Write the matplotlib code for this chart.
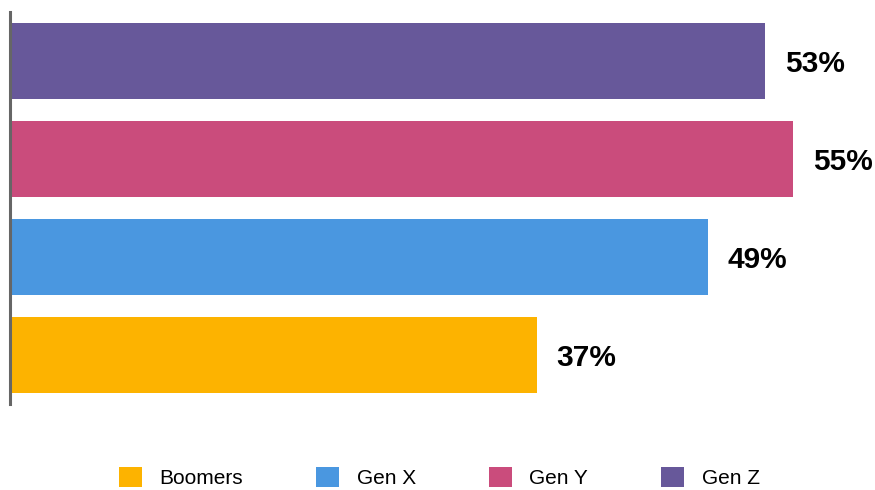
import matplotlib.pyplot as plt
from matplotlib.patches import Patch

categories = ["Boomers", "Gen X", "Gen Y", "Gen Z"]
values = [37, 49, 55, 53]
colors = ["#FDB300", "#4A97E0", "#CA4C7C", "#67589A"]

plt.rcParams['font.family'] = ['Liberation Sans', 'DejaVu Sans']

fig = plt.figure(figsize=(8.75, 4.9), dpi=100)
ax = fig.add_axes([10/875, 86/490, 1 - 10/875, 392/490])
ypos = list(range(len(categories)))
ax.barh(ypos, values, height=0.776, color=colors, zorder=2)
for y, v in zip(ypos, values):
    ax.text(v + 1.4, y - 0.03, f"{v}%", va='center', ha='left', fontsize=21.5,
            fontweight='bold', color='black')
ax.set_xlim(0, 60.75)
ax.set_ylim(-0.5, 3.5)
for s in ['top', 'right', 'bottom']:
    ax.spines[s].set_visible(False)
ax.spines['left'].set_color('#666666')
ax.spines['left'].set_linewidth(2.2)
ax.spines['left'].set_zorder(3)
ax.set_xticks([])
ax.set_yticks([])

handles = [Patch(facecolor=c, edgecolor='none') for c in colors]
fig.legend(handles, categories, loc='center', bbox_to_anchor=(0.502, 1 - 477.5/490),
           ncol=4, frameon=False, fontsize=15, handlelength=1.1, handleheight=1.1,
           handletextpad=0.85, columnspacing=3.5)

fig.savefig("out.png", dpi=100, facecolor='white')
